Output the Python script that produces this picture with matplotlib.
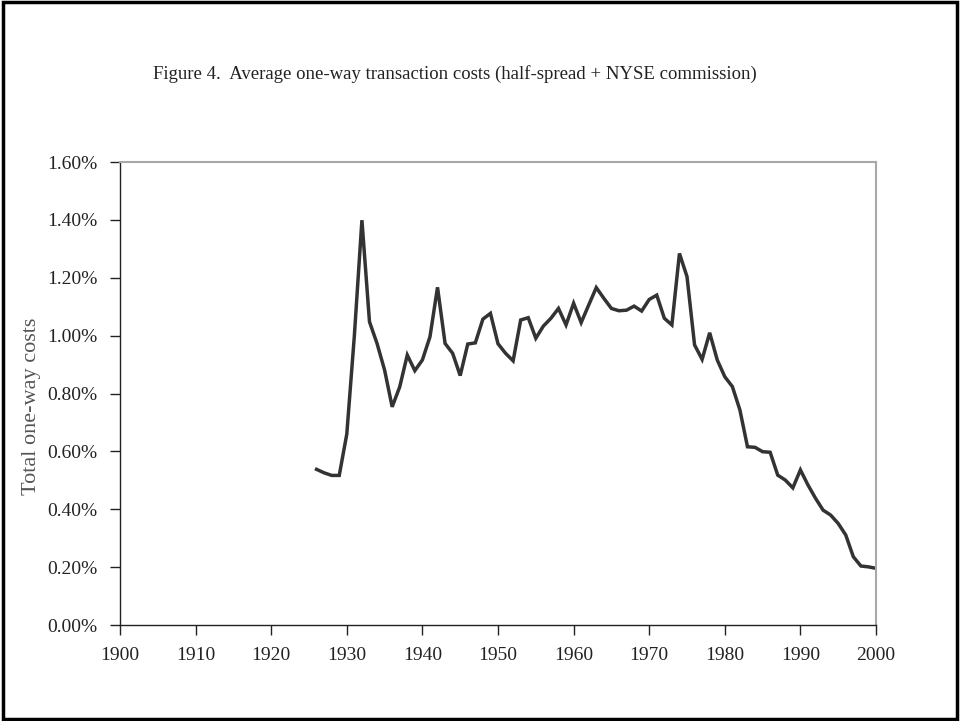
import numpy as np
import matplotlib
matplotlib.use('Agg')
import matplotlib.pyplot as plt
from matplotlib.patches import Rectangle
from matplotlib.ticker import FuncFormatter

# yearly average one-way cost, in percent
years = list(range(1926, 2001))
costs = [0.538, 0.526, 0.517, 0.517, 0.660, 1.00, 1.399, 1.048, 0.973, 0.881,
         0.754, 0.823, 0.933, 0.879, 0.916, 0.996, 1.167, 0.973, 0.939, 0.862,
         0.971, 0.975, 1.057, 1.077, 0.972, 0.939, 0.913, 1.054, 1.062, 0.991,
         1.033, 1.060, 1.094, 1.037, 1.112, 1.045, 1.106, 1.166, 1.129, 1.094,
         1.086, 1.088, 1.102, 1.085, 1.125, 1.140, 1.060, 1.037, 1.284, 1.204,
         0.968, 0.918, 1.010, 0.916, 0.858, 0.824, 0.743, 0.616, 0.614, 0.599,
         0.597, 0.518, 0.501, 0.474, 0.536, 0.484, 0.438, 0.397, 0.380, 0.351,
         0.311, 0.236, 0.204, 0.201, 0.196]

xticks = list(range(1900, 2001, 10))
yticks = [0.0, 0.2, 0.4, 0.6, 0.8, 1.0, 1.2, 1.4, 1.6]

title = "Figure 4.  Average one-way transaction costs (half-spread + NYSE commission)"
ylabel = "Total one-way costs"

plt.rcParams['font.family'] = ['Liberation Serif', 'DejaVu Serif']

fig = plt.figure(figsize=(9.6, 7.21), dpi=100)
ax = fig.add_axes([0.125, 0.1331, 0.7875, 0.6422])

ax.plot(years, costs, color='#333333', lw=2.5, solid_joinstyle='miter')

ax.set_xlim(1900, 2000)
ax.set_ylim(0, 1.6)
ax.set_xticks(xticks)
ax.set_yticks(yticks)
ax.yaxis.set_major_formatter(FuncFormatter(lambda v, p: "%.2f%%" % v))
ax.tick_params(labelsize=14, length=7, width=1, color='#222222',
               labelcolor='#222222')
ax.tick_params(axis='y', pad=9)
ax.tick_params(axis='x', pad=9)

for s in ['left', 'bottom']:
    ax.spines[s].set_color('#222222')
    ax.spines[s].set_linewidth(1.0)
for s in ['top', 'right']:
    ax.spines[s].set_color('#a8a8a8')
    ax.spines[s].set_linewidth(1.5)

ax.set_ylabel(ylabel, fontsize=16, color='#555555')
ax.yaxis.set_label_coords(-0.104, 0.473)

fig.text(0.474, 0.898, title, ha='center', va='center', fontsize=13.5, color='#222222')

# page frame
fig.patches.append(Rectangle((0.003, 0.003), 0.994, 0.994, transform=fig.transFigure,
                             fill=False, edgecolor='black', lw=2.5))

plt.savefig('out.png', dpi=100)
plt.close()
